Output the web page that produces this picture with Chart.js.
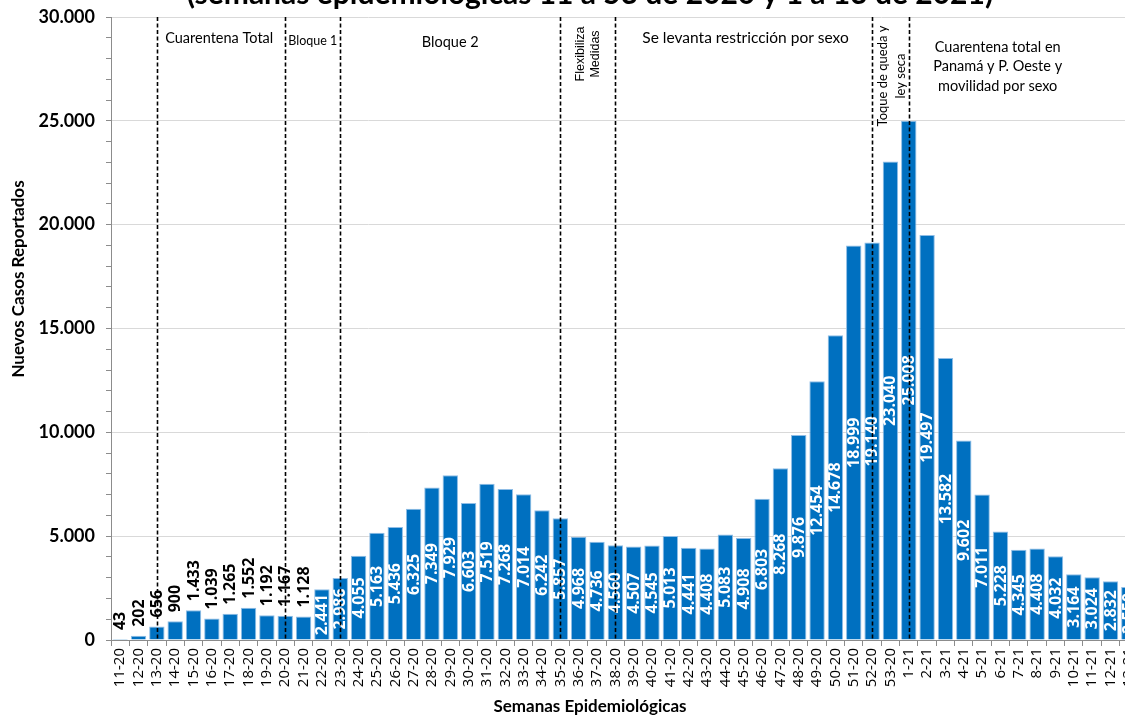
<!DOCTYPE html>
<html>
<head>
<meta charset="utf-8">
<script src="https://cdn.jsdelivr.net/npm/chart.js@4.4.1/dist/chart.umd.min.js"></script>
<style>
  html, body { margin: 0; padding: 0; overflow: hidden; background: #fff; }
  #wrap { position: absolute; left: 0; top: 0; width: 1140px; height: 717px; }
</style>
</head>
<body>
<div id="wrap"><canvas id="chart" width="1140" height="717"></canvas></div>
<script>
// Epidemiological weeks (2020: 11-53, 2021: 1-13)
const semanas = [
  '11-20','12-20','13-20','14-20','15-20','16-20','17-20','18-20','19-20','20-20',
  '21-20','22-20','23-20','24-20','25-20','26-20','27-20','28-20','29-20','30-20',
  '31-20','32-20','33-20','34-20','35-20','36-20','37-20','38-20','39-20','40-20',
  '41-20','42-20','43-20','44-20','45-20','46-20','47-20','48-20','49-20','50-20',
  '51-20','52-20','53-20','1-21','2-21','3-21','4-21','5-21','6-21','7-21',
  '8-21','9-21','10-21','11-21','12-21','13-21'
];

// New reported cases per week
const casosNuevos = [
  43, 202, 656, 900, 1433, 1039, 1265, 1552, 1192, 1167,
  1128, 2441, 2986, 4055, 5163, 5436, 6325, 7349, 7929, 6603,
  7519, 7268, 7014, 6242, 5857, 4968, 4736, 4560, 4507, 4545,
  5013, 4441, 4408, 5083, 4908, 6803, 8268, 9876, 12454, 14678,
  18999, 19140, 23040, 25008, 19497, 13582, 9602, 7011, 5228, 4345,
  4408, 4032, 3164, 3024, 2832, 2550
];

// Weeks where a new set of measures started (dashed markers)
const semanasCambio = ['13-20', '20-20', '23-20', '35-20', '38-20', '52-20', '1-21'];

// Period labels: text lines, category position, vertical centre, rotation, font
const etiquetasPeriodo = [
  { lineas: ['Cuarentena Total'], cat: 5.4, y: 38, rot: false, font: '14.5px Lato' },
  { lineas: ['Bloque 1'], cat: 10.5, y: 41, rot: false, font: '12.5px Lato' },
  { lineas: ['Bloque 2'], cat: 18.0, y: 42, rot: false, font: '14.5px Lato' },
  { lineas: ['Flexibiliza', 'Medidas'], cat: 25.5, y: 54, rot: true, font: '12.5px "Liberation Sans"', paso: 15 },
  { lineas: ['Se levanta restricción por sexo'], cat: 34.1, y: 38, rot: false, font: '15.5px Lato' },
  { lineas: ['Toque de queda y', 'ley seca'], cat: 42.1, y: 76, rot: true, font: '13px Lato', paso: 18 },
  { lineas: ['Cuarentena total en', 'Panamá y P. Oeste y', 'movilidad por sexo'], cat: 47.85, y: 47, rot: false, font: '14.5px Lato' }
];

const titulo = '(semanas epidemiológicas 11 a 53 de 2020 y 1 a 13 de 2021)';
const tituloY = 'Nuevos Casos Reportados';
const tituloX = 'Semanas Epidemiológicas';

function miles(v) {
  return String(v).replace(/\B(?=(\d{3})+(?!\d))/g, '.');
}

const overlay = {
  id: 'overlay',
  afterDatasetsDraw(chart) {
    const ctx = chart.ctx;
    const xs = chart.scales.x, ys = chart.scales.y;
    const area = chart.chartArea;

    // value labels
    const base = ys.getPixelForValue(0);
    ctx.save();
    ctx.font = 'bold 16px "Open Sans"';
    ctx.textBaseline = 'middle';
    casosNuevos.forEach((v, i) => {
      const x = xs.getPixelForValue(i);
      const top = ys.getPixelForValue(v);
      ctx.save();
      if (v >= 2000) {
        ctx.translate(x + 0.5, (top + base) / 2);
        ctx.rotate(-Math.PI / 2);
        ctx.textAlign = 'center';
        ctx.fillStyle = '#ffffff';
      } else {
        ctx.translate(x + 0.5, top - 9);
        ctx.rotate(-Math.PI / 2);
        ctx.textAlign = 'left';
        ctx.fillStyle = '#000000';
      }
      ctx.fillText(miles(v), 0, 0);
      ctx.restore();
    });
    ctx.restore();

    // dashed markers
    ctx.save();
    ctx.strokeStyle = '#000';
    ctx.lineWidth = 1.6;
    ctx.setLineDash([4, 2.5]);
    semanasCambio.forEach(s => {
      const x = Math.round(xs.getPixelForValue(semanas.indexOf(s))) + 0.5;
      ctx.beginPath();
      ctx.moveTo(x, area.top);
      ctx.lineTo(x, area.bottom);
      ctx.stroke();
    });
    ctx.restore();

    // period labels
    ctx.save();
    ctx.fillStyle = '#000';
    etiquetasPeriodo.forEach(e => {
      const cx = xs.getPixelForValue(e.cat);
      ctx.font = e.font;
      ctx.textAlign = 'center';
      ctx.textBaseline = 'middle';
      if (e.rot) {
        e.lineas.forEach((t, k) => {
          ctx.save();
          ctx.translate(cx + (k - (e.lineas.length - 1) / 2) * e.paso, e.y);
          ctx.rotate(-Math.PI / 2);
          ctx.fillText(t, 0, 0);
          ctx.restore();
        });
      } else {
        e.lineas.forEach((t, k) => ctx.fillText(t, cx, e.y + k * 19.5));
      }
    });
    ctx.restore();

    // titles
    ctx.save();
    ctx.fillStyle = '#000';
    ctx.textAlign = 'center';
    ctx.font = 'bold 30px Lato';
    ctx.textBaseline = 'alphabetic';
    ctx.fillText(titulo, 590, 4);
    ctx.font = 'bold 17px Lato';
    ctx.textBaseline = 'middle';
    ctx.fillText(tituloX, 590, 707);
    ctx.translate(19, 279);
    ctx.rotate(-Math.PI / 2);
    ctx.fillText(tituloY, 0, 0);
    ctx.restore();
  }
};

new Chart(document.getElementById('chart'), {
  type: 'bar',
  data: {
    labels: semanas,
    datasets: [{
      data: casosNuevos,
      backgroundColor: '#0070C0',
      borderColor: '#8fbde6',
      borderWidth: 1,
      barPercentage: 0.84,
      categoryPercentage: 1
    }]
  },
  options: {
    responsive: false,
    animation: false,
    devicePixelRatio: 1,
    layout: { padding: { top: 17, right: 2, left: 0, bottom: 0 } },
    plugins: { legend: { display: false }, title: { display: false }, tooltip: { enabled: false } },
    scales: {
      x: {
        grid: { offset: true, drawOnChartArea: false, drawTicks: true, tickLength: 6, color: '#8c8c8c' },
        border: { color: '#8c8c8c', width: 1 },
        ticks: {
          autoSkip: false, minRotation: 90, maxRotation: 90, padding: 2,
          color: '#000', font: { family: 'Open Sans', size: 15 }
        },
        afterFit(s) { s.height = 77; s.paddingLeft = 0; s.paddingRight = 0; }
      },
      y: {
        min: 0, max: 30000,
        grid: {
          color: c => (c.tick && c.tick.value % 5000 === 0 && c.tick.value > 0) ? '#d9d9d9' : 'rgba(0,0,0,0)',
          tickColor: '#8c8c8c', tickLength: 5, lineWidth: 1
        },
        border: { color: '#8c8c8c', width: 1 },
        ticks: {
          stepSize: 1000, autoSkip: false, padding: 11, color: '#000',
          font: { family: 'Lato', size: 18, weight: 'bold' },
          callback: v => (v % 5000 === 0 ? miles(v) : '')
        },
        afterFit(s) { s.width = 111; s.paddingTop = 0; s.paddingBottom = 0; }
      }
    }
  },
  plugins: [overlay]
});
</script>
</body>
</html>
